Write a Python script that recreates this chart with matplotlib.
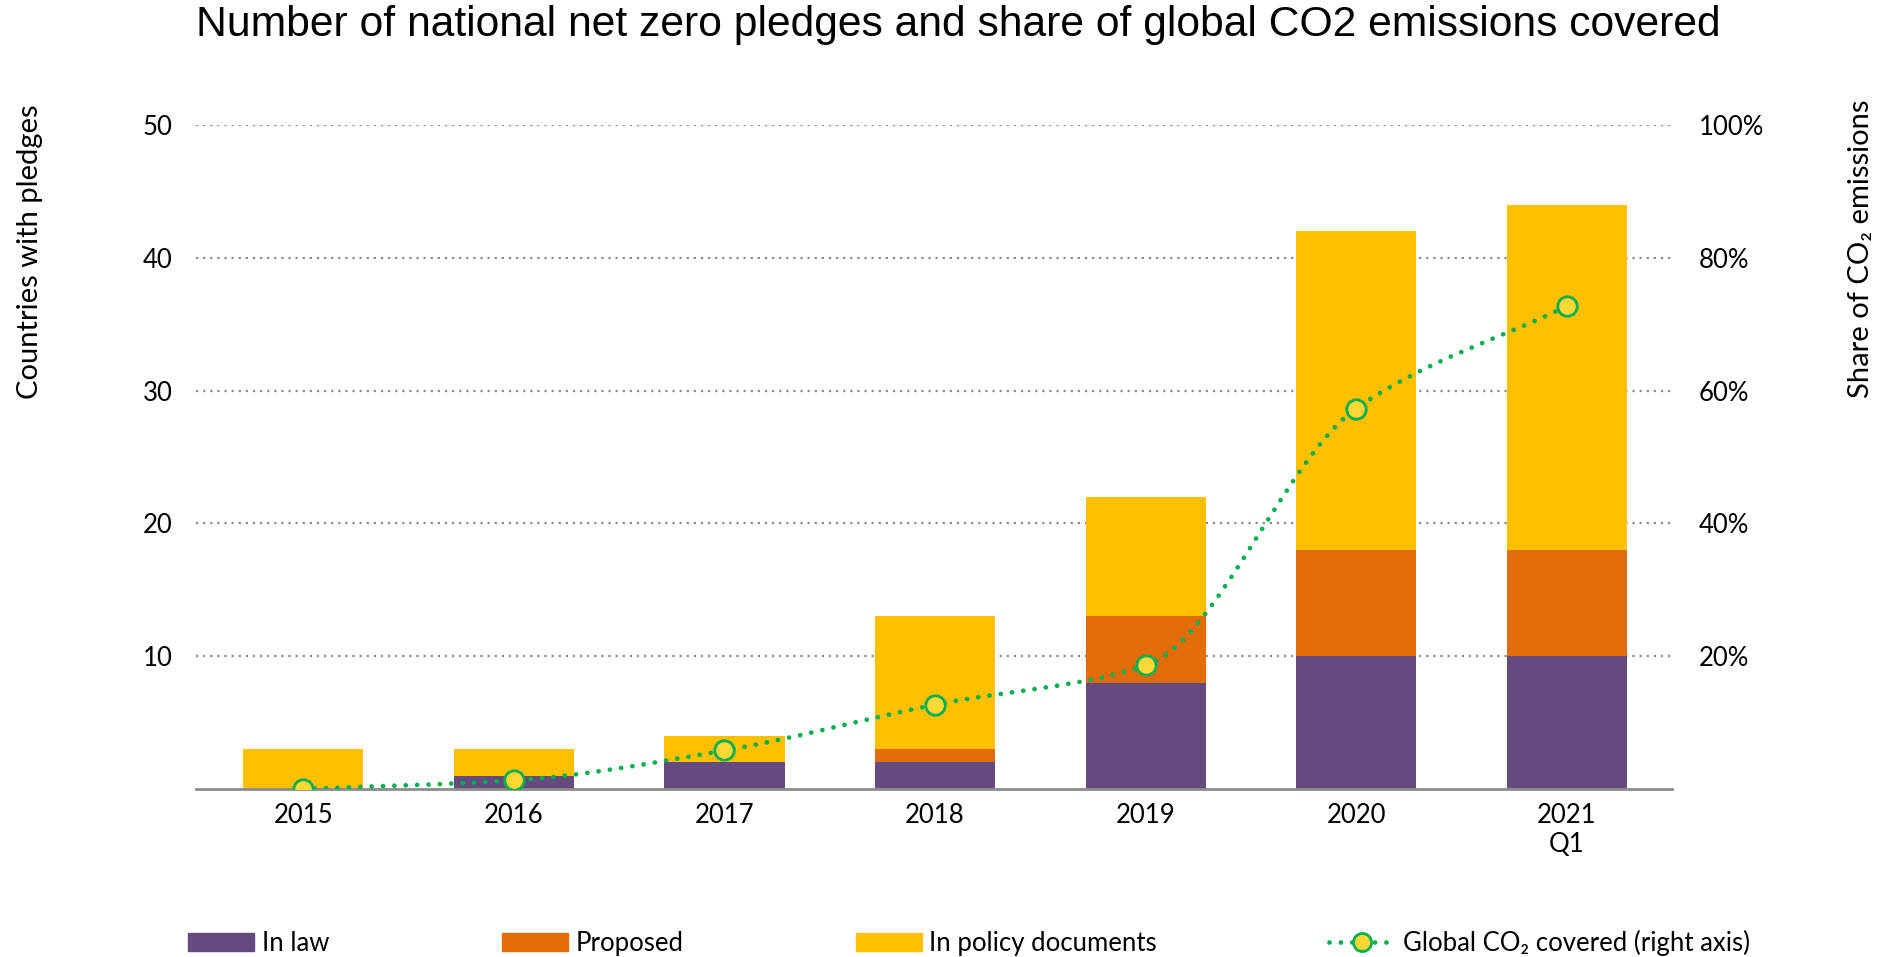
import matplotlib.pyplot as plt
import numpy as np
from matplotlib.path import Path
from matplotlib.patches import PathPatch, Patch
from matplotlib.lines import Line2D

plt.rcParams['font.family'] = ['Lato', 'DejaVu Sans']

years = ['2015', '2016', '2017', '2018', '2019', '2020', '2021\nQ1']
in_law = [0, 1, 2, 2, 8, 10, 10]
proposed = [0, 0, 0, 1, 5, 8, 8]
in_policy = [3, 2, 2, 10, 9, 24, 26]
co2_share = [0.0, 1.3, 5.8, 12.7, 18.6, 57.3, 72.7]

purple = '#644A7E'
orange = '#E36C0A'
yellow = '#FFC000'
green = '#00B050'
marker_face = '#FDD835'


def smooth_path(xs, ys):
    # monotone cubic (Fritsch-Carlson) through the points, drawn as bezier segments
    xs = np.asarray(xs, float)
    ys = np.asarray(ys, float)
    h = np.diff(xs)
    d = np.diff(ys) / h
    m = np.zeros_like(ys)
    m[0], m[-1] = d[0], d[-1]
    for i in range(1, len(ys) - 1):
        if d[i - 1] * d[i] > 0:
            m[i] = 2 / (1 / d[i - 1] + 1 / d[i])
    verts = [(xs[0], ys[0])]
    codes = [Path.MOVETO]
    for i in range(len(xs) - 1):
        verts += [(xs[i] + h[i] / 3, ys[i] + m[i] * h[i] / 3),
                  (xs[i + 1] - h[i] / 3, ys[i + 1] - m[i + 1] * h[i] / 3),
                  (xs[i + 1], ys[i + 1])]
        codes += [Path.CURVE4] * 3
    return Path(verts, codes)


fig = plt.figure(figsize=(18.83, 9.57), dpi=100)
ax = fig.add_axes([196 / 1883, 1 - 789 / 957, (1672 - 196) / 1883, (789 - 125) / 957])
ax2 = ax.twinx()

x = np.arange(len(years))
width = 0.57
ax.bar(x, in_law, width, color=purple, zorder=2)
ax.bar(x, proposed, width, bottom=in_law, color=orange, zorder=2)
bottom2 = np.array(in_law) + np.array(proposed)
ax.bar(x, in_policy, width, bottom=bottom2, color=yellow, zorder=2)

ax.set_xlim(-0.51, 6.5)
ax.set_ylim(0, 50)
ax.set_yticks([10, 20, 30, 40, 50])
ax.set_xticks(x)
ax.set_xticklabels(years)
ax.yaxis.grid(True, linestyle=(0, (1, 2.2)), color='#8c8c8c', linewidth=1.6, zorder=0)
ax.set_axisbelow(True)
for s in ['top', 'right', 'left']:
    ax.spines[s].set_visible(False)
ax.spines['bottom'].set_color('#8c8c8c')
ax.spines['bottom'].set_linewidth(2)
ax.spines['bottom'].set_zorder(3)
ax.tick_params(axis='x', length=0, labelsize=18.5, pad=10)
ax.tick_params(axis='y', length=0, labelsize=18.5, pad=17)

ax2.set_ylim(0, 100)
ax2.set_yticks([20, 40, 60, 80, 100])
ax2.set_yticklabels(['20%', '40%', '60%', '80%', '100%'])
ax2.tick_params(axis='y', length=0, labelsize=18.5, pad=19)
for s in ax2.spines.values():
    s.set_visible(False)

fig.text(30 / 1883, 0.737, 'Countries with pledges', rotation=90, ha='center', va='center', fontsize=21)
fig.text(1861 / 1883, 0.740, 'Share of CO₂ emissions', rotation=90, ha='center', va='center', fontsize=21)

dots = (0, (0.01, 2.4))
ax2.add_patch(PathPatch(smooth_path(x, co2_share), fill=False, edgecolor=green,
                        linewidth=3.4, linestyle=dots, capstyle='round', zorder=4))
ax2.plot(x, co2_share, linestyle='none', marker='o', markersize=14,
         markerfacecolor=marker_face, markeredgecolor=green, markeredgewidth=2, zorder=5)

fig.text(196 / 1883, 0.995, 'Number of national net zero pledges and share of global CO2 emissions covered',
         ha='left', va='top', fontsize=30.7, family=['Liberation Sans', 'DejaVu Sans'])

handles = [Patch(color=purple), Patch(color=orange), Patch(color=yellow),
           Line2D([], [], color=green, linewidth=3.4, linestyle=dots,
                  dash_capstyle='round', marker='o', markersize=13,
                  markerfacecolor=marker_face, markeredgecolor=green, markeredgewidth=2)]
labels = ['In law', 'Proposed', 'In policy documents', 'Global CO₂ covered (right axis)']
fig.legend(handles, labels, loc='center left', bbox_to_anchor=(0.0878, 14 / 957), ncol=4,
           frameon=False, fontsize=18.5, handlelength=2.57, handleheight=0.7,
           handletextpad=0.3, columnspacing=6.7)

fig.savefig('out.png', dpi=100)
